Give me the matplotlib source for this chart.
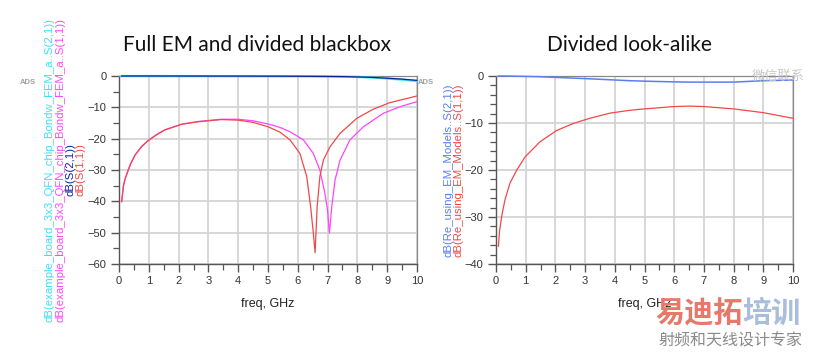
import matplotlib
matplotlib.use("Agg")
import matplotlib.pyplot as plt
from matplotlib.ticker import MultipleLocator

# ---------------- data ----------------
# Left plot: Full EM and divided blackbox
f_s11_fem = [0.09, 0.15, 0.2, 0.31, 0.4, 0.54, 0.75, 0.98, 1.25, 1.54, 2.1, 2.66, 3.44, 4.0, 4.5, 5.0, 5.4,
             5.74, 6.19, 6.52, 6.74, 6.91, 7.0, 7.06, 7.1, 7.14, 7.25, 7.42, 7.75, 8.2, 8.87, 9.43, 9.99]
s11_fem = [-40.1, -35.0, -33.0, -30.0, -27.8, -25.2, -22.6, -20.6, -18.8, -17.2, -15.4, -14.5, -13.8, -13.8,
           -14.3, -15.3, -16.4, -17.8, -20.4, -24.7, -30.0, -37.4, -43.0, -50.2, -46.0, -41.7, -33.2, -26.8,
           -20.4, -16.2, -11.9, -9.8, -8.2]
f_s11_box = [0.09, 0.15, 0.2, 0.31, 0.4, 0.54, 0.75, 0.98, 1.25, 1.54, 2.1, 2.66, 3.44, 4.0, 4.5, 5.0, 5.4,
             5.74, 6.07, 6.3, 6.43, 6.52, 6.58, 6.61, 6.65, 6.74, 6.86, 7.08, 7.42, 7.98, 8.53, 9.09, 9.99]
s11_box = [-40.1, -35.0, -33.0, -30.0, -27.8, -25.2, -22.6, -20.6, -18.8, -17.2, -15.4, -14.6, -13.9, -14.1,
           -14.8, -16.2, -17.9, -20.4, -24.7, -32.1, -41.7, -50.0, -56.4, -50.0, -41.7, -32.1, -26.8, -22.6,
           -18.3, -13.5, -10.6, -8.5, -6.4]
f_s21 = [0.09, 1.0, 2.0, 3.0, 4.0, 5.0, 6.0, 7.0, 7.5, 8.0, 8.5, 9.0, 9.5, 10.0]
s21_fem = [0.0, 0.0, -0.02, -0.03, -0.05, -0.06, -0.08, -0.12, -0.18, -0.3, -0.5, -0.8, -1.15, -1.6]
s21_box = [0.0, 0.0, -0.01, -0.02, -0.03, -0.05, -0.08, -0.15, -0.2, -0.3, -0.45, -0.7, -1.0, -1.4]

# Right plot: Divided look-alike
f_r = [0.08, 0.12, 0.19, 0.3, 0.47, 0.7, 0.98, 1.48, 2.04, 2.6, 3.16, 3.84, 4.5, 5.0, 6.0, 6.5, 7.0, 8.0,
       9.0, 10.0]
s11_r = [-36.2, -33.0, -29.9, -26.4, -22.8, -20.0, -17.2, -14.0, -11.6, -10.1, -9.0, -7.9, -7.3, -7.0, -6.5,
         -6.4, -6.5, -7.0, -7.8, -9.0]
s21_r = [0.0, 0.0, 0.0, 0.0, -0.02, -0.05, -0.08, -0.15, -0.3, -0.45, -0.6, -0.8, -1.0, -1.1, -1.25, -1.3,
         -1.3, -1.3, -1.0, -0.85]

xticks = list(range(0, 11))
yticks_left = [0, -10, -20, -30, -40, -50, -60]
yticks_right = [0, -10, -20, -30, -40]

titles = ["Full EM and divided blackbox", "Divided look-alike"]
left_labels = ["dB(example_board_3x3_QFN_chip_Bondw_FEM_a..S(2,1))",
               "dB(example_board_3x3_QFN_chip_Bondw_FEM_a..S(1,1))",
               "dB(S(2,1))", "dB(S(1,1))"]
right_labels = ["dB(Re_using_EM_Models..S(2,1))", "dB(Re_using_EM_Models..S(1,1))"]

# ---------------- style ----------------
CYAN = "#3fe0ee"
MAGENTA = "#ff44ff"
NAVY = "#10209a"
RED = "#f04848"
BLUE = "#5a7ef0"
GRID = "#d4d4d4"
AX = "#555555"
FRAME = "#8a8a8a"

plt.rcParams['font.family'] = ['Liberation Sans', 'DejaVu Sans']

fig = plt.figure(figsize=(8.15, 3.53), dpi=100)
fig.patch.set_facecolor("white")

W, H = 815.0, 353.0
def axes_px(x0, x1, y0, y1):
    return fig.add_axes([x0 / W, 1 - y1 / H, (x1 - x0) / W, (y1 - y0) / H])

axL = axes_px(119, 417, 76, 264)
axR = axes_px(496, 793, 76, 264)

def style(ax, yticks, ymin, yminor):
    ax.set_xlim(0, 10)
    ax.set_ylim(ymin, 0)
    ax.set_xticks(xticks)
    ax.set_yticks(yticks)
    ax.xaxis.set_minor_locator(MultipleLocator(0.5))
    ax.yaxis.set_minor_locator(MultipleLocator(yminor))
    ax.grid(True, which="major", color=GRID, linewidth=1.3)
    ax.set_axisbelow(True)
    for s in ["top", "right"]:
        ax.spines[s].set_color(FRAME)
        ax.spines[s].set_linewidth(0.9)
    for s in ["left", "bottom"]:
        ax.spines[s].set_color(AX)
        ax.spines[s].set_linewidth(1.0)
    ax.tick_params(which="major", direction="out", length=6, color=AX, width=1.0,
                   labelsize=8, labelcolor="#333333", pad=3)
    ax.tick_params(which="minor", direction="out", length=4, color=AX, width=0.9)
    ax.set_xlabel("freq, GHz", fontsize=9, color="#222222", labelpad=8)
    for lab in ax.get_xticklabels() + ax.get_yticklabels():
        lab.set_clip_on(False)

style(axL, yticks_left, -60, 5)
style(axR, yticks_right, -40, 2)

# left curves
axL.plot(f_s21, s21_fem, color=CYAN, lw=1.6, clip_on=False, zorder=3)
axL.plot(f_s21, s21_box, color=NAVY, lw=0.9, clip_on=False, zorder=4)
axL.plot(f_s11_fem, s11_fem, color=MAGENTA, lw=0.9, zorder=3)
axL.plot(f_s11_box, s11_box, color=RED, lw=0.9, zorder=4)

# right curves
axR.plot(f_r, s21_r, color=BLUE, lw=1.1, clip_on=False, zorder=3)
axR.plot(f_r, s11_r, color=RED, lw=0.9, zorder=4)

# titles
fig.text(257 / W, 1 - 45 / H, titles[0], ha="center", va="center", fontsize=15,
         family=["Lato", "DejaVu Sans"], color="#111111")
fig.text(629 / W, 1 - 45 / H, titles[1], ha="center", va="center", fontsize=15,
         family=["Lato", "DejaVu Sans"], color="#111111")

# rotated y labels
yc = 1 - 170 / H
for x, lab, c in zip([50, 60, 71, 81], left_labels, [CYAN, MAGENTA, NAVY, RED]):
    fig.text(x / W, yc, lab, rotation=90, ha="center", va="center", fontsize=8.2, color=c)
for x, lab, c in zip([448, 458], right_labels, [BLUE, RED]):
    fig.text(x / W, yc, lab, rotation=90, ha="center", va="center", fontsize=8.2, color=c)

# ADS marks
fig.text(28 / W, 1 - 83 / H, "ADS", ha="center", va="center", fontsize=5.5, color="#a0a0a0",
         fontweight="bold")
fig.text(426 / W, 1 - 83 / H, "ADS", ha="center", va="center", fontsize=5.5, color="#a0a0a0",
         fontweight="bold")

# watermarks
cjk = ["Noto Sans CJK SC", "DejaVu Sans"]
fig.text(655 / W, 1 - 313 / H, "易迪拓", ha="left", va="center", fontsize=21, fontweight="bold",
         family=cjk, color="#e8786a")
fig.text(742 / W, 1 - 313 / H, "培训", ha="left", va="center", fontsize=21, fontweight="bold",
         family=cjk, color="#a8bedc")
fig.text(730 / W, 1 - 341 / H, "射频和天线设计专家", ha="center", va="center", fontsize=11.5,
         family=cjk, color="#8a8a8a")
fig.text(778 / W, 1 - 76 / H, "微信联系", ha="center", va="center", fontsize=9.5,
         family=cjk, color="#c8c8c8")

fig.savefig("out.png", dpi=100, facecolor="white")
